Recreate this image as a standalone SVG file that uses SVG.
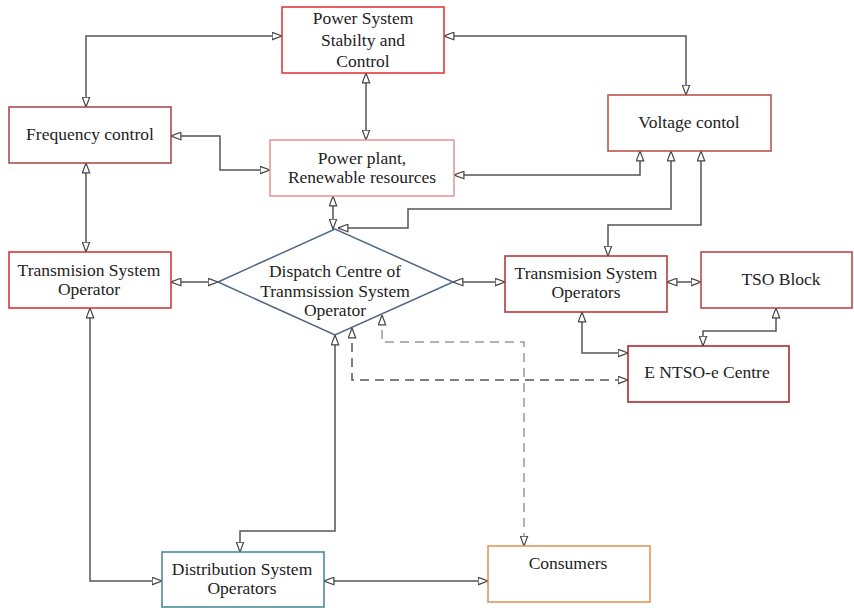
<svg xmlns="http://www.w3.org/2000/svg" width="854" height="608" viewBox="0 0 854 608">
<defs>
<marker id="arr" viewBox="0 0 11 9" refX="10.5" refY="4.5" markerWidth="11" markerHeight="9" markerUnits="userSpaceOnUse" orient="auto-start-reverse">
<path d="M0.6,0.8 L10.5,4.5 L0.6,8.2 Z" fill="#fff" stroke="#444" stroke-width="1.2"/>
</marker>
</defs>
<style>
.t text{font-size:17.5px;fill:#222;text-anchor:middle}
.box{fill:#fff;stroke-width:1.6}
.c{fill:none;stroke:#555;stroke-width:1.5;marker-start:url(#arr);marker-end:url(#arr)}
.d1{stroke:#555;stroke-dasharray:9,6}
.d2{stroke:#999;stroke-dasharray:9,6}
</style>
<rect width="854" height="608" fill="#fff"/>
<g id="connectors">
<path class="c" d="M282,36 H86 V107"/>
<path class="c" d="M444,36 H686 V95"/>
<path class="c" d="M366,73 V140"/>
<path class="c" d="M171,136 H220 V170 H270"/>
<path class="c" d="M640,151 V175 H454"/>
<path class="c" d="M671,151 V209 H408 V228 H338"/>
<path class="c" d="M701,151 V225 H608 V256"/>
<path class="c" d="M333,196 V229"/>
<path class="c" d="M86,163 V252"/>
<path class="c" d="M171,282 H218"/>
<path class="c" d="M453,282 H505"/>
<path class="c" d="M667,282 H701"/>
<path class="c" d="M582,312 V353 H628"/>
<path class="c" d="M776,308 V331 H703 V346"/>
<path class="c" d="M90,308 V581 H162"/>
<path class="c" d="M335,335 V531 H240 V552"/>
<path class="c" d="M324,581 H488"/>
<path class="c d1" d="M352,328 V380 H628"/>
<path class="c d2" d="M382,315 V342 H524 V546"/>
</g>
<g class="t" font-family="'Liberation Serif', 'DejaVu Serif', 'Times New Roman', serif">
<g id="power-system">
<rect class="box" x="282" y="7" width="162" height="66" stroke="#e23a3a"/>
<text x="363" y="24">Power System</text>
<text x="363" y="46">Stabilty and</text>
<text x="363" y="67">Control</text>
</g>
<g id="frequency-control">
<rect class="box" x="9" y="107" width="162" height="56" stroke="#a85050"/>
<text x="90" y="140">Frequency control</text>
</g>
<g id="power-plant">
<rect class="box" x="270" y="140" width="184" height="56" stroke="#e89a9a"/>
<text x="362" y="164">Power plant,</text>
<text x="362" y="183">Renewable resources</text>
</g>
<g id="voltage-control">
<rect class="box" x="608" y="95" width="163" height="56" stroke="#c05050"/>
<text x="689" y="128">Voltage contol</text>
</g>
<g id="tso">
<rect class="box" x="9" y="252" width="162" height="56" stroke="#d03a3a"/>
<text x="89" y="276">Transmision System</text>
<text x="89" y="295">Operator</text>
</g>
<g id="dispatch-centre">
<polygon points="218,282 335,229 453,282 335,335" fill="#fff" stroke="#4e6685" stroke-width="1.5"/>
<text x="335" y="277">Dispatch Centre of</text>
<text x="335" y="297">Tranmsission System</text>
<text x="335" y="316">Operator</text>
</g>
<g id="tsos">
<rect class="box" x="505" y="256" width="162" height="56" stroke="#b83a3a"/>
<text x="586" y="279">Transmision System</text>
<text x="586" y="298">Operators</text>
</g>
<g id="tso-block">
<rect class="box" x="701" y="252" width="151" height="56" stroke="#c04848"/>
<text x="781" y="285">TSO Block</text>
</g>
<g id="entso-e">
<rect class="box" x="628" y="346" width="161" height="56" stroke="#b02828"/>
<text x="707" y="378">E NTSO-e Centre</text>
</g>
<g id="dso">
<rect class="box" x="162" y="552" width="162" height="55" stroke="#4f8c99"/>
<text x="242" y="575">Distribution System</text>
<text x="242" y="594">Operators</text>
</g>
<g id="consumers">
<rect class="box" x="488" y="546" width="162" height="56" stroke="#e3965a"/>
<text x="568" y="569">Consumers</text>
</g>
</g>
</svg>
